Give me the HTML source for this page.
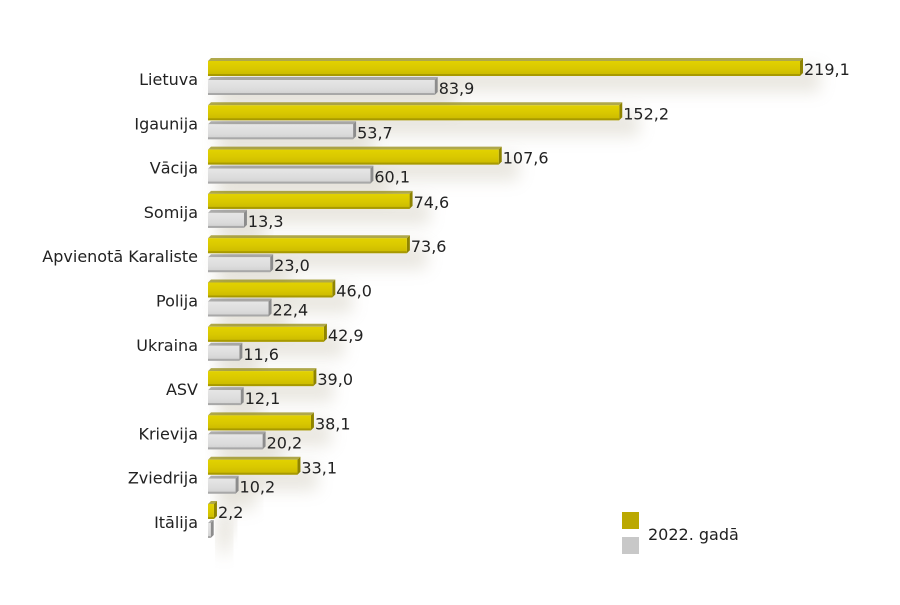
<!DOCTYPE html>
<html><head><meta charset="utf-8"><style>
body{margin:0;background:#fff;font-family:"Liberation Sans","DejaVu Sans",sans-serif}
svg text{font-family:"DejaVu Sans","Liberation Sans",sans-serif}
</style></head><body>
<svg id="chart" width="900" height="600" viewBox="0 0 900 600">
<defs>
<filter id="blur" x="-20%" y="-80%" width="140%" height="260%"><feGaussianBlur stdDeviation="8"/></filter>
<linearGradient id="yg" x1="0" y1="0" x2="0" y2="1"><stop offset="0" stop-color="#e2d200"/><stop offset="0.5" stop-color="#d9c800"/><stop offset="1" stop-color="#c9b800"/></linearGradient>
<linearGradient id="gg" x1="0" y1="0" x2="0" y2="1"><stop offset="0" stop-color="#e6e6e6"/><stop offset="0.6" stop-color="#dcdcdc"/><stop offset="1" stop-color="#cfcfcf"/></linearGradient>
</defs>
<g id="shadows"></g><g id="bars"></g><g id="labels"></g>
<g>
<rect x="622" y="512" width="17" height="17" fill="#bba800"/>
<rect x="622" y="537" width="17" height="17" fill="#c8c8c8"/>
<text x="648" y="540" font-size="16" fill="#222">2022. gadā</text>
</g>
</svg>
<script>
const categories=["Lietuva","Igaunija","Vācija","Somija","Apvienotā Karaliste","Polija","Ukraina","ASV","Krievija","Zviedrija","Itālija"];
const values2022=[219.1,152.2,107.6,74.6,73.6,46.0,42.9,39.0,38.1,33.1,2.2];
const values2021=[83.9,53.7,60.1,13.3,23.0,22.4,11.6,12.1,20.2,10.2,1.0];
const labels2022=["219,1","152,2","107,6","74,6","73,6","46,0","42,9","39,0","38,1","33,1","2,2"];
const labels2021=["83,9","53,7","60,1","13,3","23,0","22,4","11,6","12,1","20,2","10,2",""];
const NS="http://www.w3.org/2000/svg";
const x0=208,scale=592/219.1,top0=61,step=44.3,bh=15;
const xs=v=>x0+v*scale;
function mk(t,a,p){const e=document.createElementNS(NS,t);for(const k in a)e.setAttribute(k,a[k]);p.appendChild(e);return e;}
const S=document.getElementById('shadows'),B=document.getElementById('bars'),L=document.getElementById('labels');
function bar(v,y,fill,side,name,lab){
  const x1=xs(v);
  const sh=mk('rect',{x:x0+10,y:y+6,width:Math.max(0,x1-x0+10),height:bh+10,fill:'#b8b09a',opacity:0.3,filter:'url(#blur)'},S);
  
  const g=mk('g',{},B);
  
  mk('polygon',{points:`${x0+3},${y-3} ${x1+3},${y-3} ${x1},${y} ${x0},${y}`,fill:side,opacity:0.7},g);
  mk('polygon',{points:`${x1},${y} ${x1+3},${y-3} ${x1+3},${y+bh-3} ${x1},${y+bh}`,fill:side},g);
  mk('rect',{x:x0,y:y,width:Math.max(1,x1-x0),height:bh,fill:fill},g);
  mk('rect',{x:x0,y:y+bh-2,width:Math.max(1,x1-x0),height:2,fill:side,opacity:0.6},g);
  if(lab){const t=mk('text',{x:x1+4,y:y+bh-1,'font-size':16,fill:'#222'},L);t.textContent=lab;
  }
}
categories.forEach((c,i)=>{
  const y=top0+i*step;
  bar(values2022[i],y,'url(#yg)','#8f8400','bar-2022-'+i,labels2022[i]);
  bar(values2021[i],y+19,'url(#gg)','#8c8c8c','bar-2021-'+i,labels2021[i]);
  const t=mk('text',{x:198,y:y+24,'font-size':16,fill:'#222','text-anchor':'end'},L);
  t.textContent=c;
  
  
});
</script>
</body></html>
